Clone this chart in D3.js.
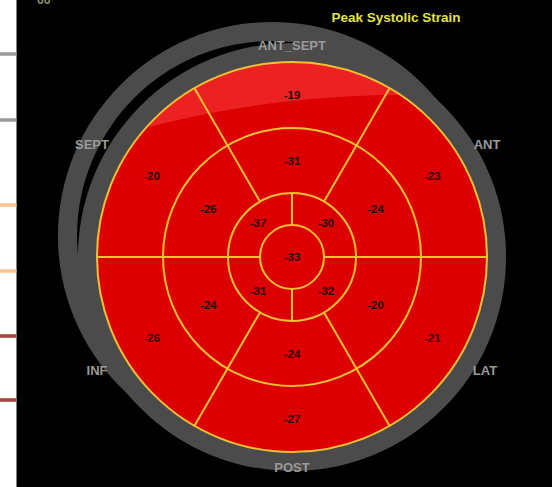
<!DOCTYPE html>
<html>
<head>
<meta charset="utf-8">
<script src="https://cdn.jsdelivr.net/npm/d3@7"></script>
<style>
  html, body { margin: 0; padding: 0; background: #ffffff; }
  svg { display: block; }
</style>
</head>
<body>
<svg id="chart" width="552" height="487"></svg>
<script>
// ---- data ----
const chartTitle = "Peak Systolic Strain";
const wallLabels = ["ANT_SEPT", "ANT", "LAT", "POST", "INF", "SEPT"];
// basal & mid rings: segments clockwise starting at the top (ANT_SEPT)
const basalValues = [-19, -23, -21, -27, -26, -20];
const midValues   = [-31, -24, -20, -24, -24, -26];
// apical ring: segments clockwise starting at top-right
const apicalValues = [-30, -32, -31, -37];
const apexValue = [-33];
const sideLineColors = ["#9a9a9a", "#9a9a9a", "#f7c38f", "#f7c38f", "#a2413b", "#a2413b"];

// ---- layout ----
const svg = d3.select("#chart");
const cx = 292, cy = 257;
const deg = Math.PI / 180;

// background
svg.append("rect").attr("x", 0).attr("y", 0).attr("width", 552).attr("height", 487).attr("fill", "#ffffff");
svg.append("rect").attr("x", 16.5).attr("y", 0).attr("width", 552 - 16.5).attr("height", 487).attr("fill", "#000000");

// fragments of lines on the left white strip
const sideYs = [54, 120, 205, 271, 336, 400];
svg.selectAll("line.side").data(sideLineColors).join("line")
  .attr("class", "side")
  .attr("x1", 0).attr("x2", 16.5)
  .attr("y1", (d, i) => sideYs[i])
  .attr("y2", (d, i) => sideYs[i])
  .attr("stroke", d => d).attr("stroke-width", 3.5);

// partly visible text at top-left
svg.append("text").attr("x", 37).attr("y", 4).attr("fill", "#8a8a70")
  .attr("font-family", "Liberation Sans, Arial, sans-serif").attr("font-weight", "bold")
  .attr("font-size", 12).text("66");

// radius scale: ring boundary index -> radius
const rScale = d3.scaleLinear().domain([0, 1, 2, 3]).range([32, 64, 129, 195]);
const bandOuter = 214;

// gray band (ghost + main)
const ringArc = d3.arc().innerRadius(rScale(3)).outerRadius(bandOuter).startAngle(0).endAngle(2 * Math.PI);
svg.append("path").attr("d", ringArc()).attr("transform", "translate(272,236)").attr("fill", "#4b4b4b");
svg.append("path").attr("d", ringArc()).attr("transform", `translate(${cx},${cy})`).attr("fill", "#4b4b4b");

const g = svg.append("g").attr("transform", `translate(${cx},${cy})`);

// angle scales (d3 arc angles: clockwise from 12 o'clock)
const sixAngle = d3.scaleLinear().domain([0, 6]).range([-30 * deg, 330 * deg]);
const fourAngle = d3.scaleLinear().domain([0, 4]).range([0, 360 * deg]);

const segs = [];
basalValues.forEach((v, i) => segs.push({ v, r0: rScale(2), r1: rScale(3), a0: sixAngle(i), a1: sixAngle(i + 1) }));
midValues.forEach((v, i) => segs.push({ v, r0: rScale(1), r1: rScale(2), a0: sixAngle(i), a1: sixAngle(i + 1) }));
apicalValues.forEach((v, i) => segs.push({ v, r0: rScale(0), r1: rScale(1), a0: fourAngle(i), a1: fourAngle(i + 1) }));
apexValue.forEach(v => segs.push({ v, r0: 0, r1: rScale(0), a0: 0, a1: 2 * Math.PI }));

const color = d3.scaleThreshold().domain([-15, -5]).range(["#dc0000", "#e06060", "#e0e0e0"]);
const arc = d3.arc().innerRadius(d => d.r0).outerRadius(d => d.r1).startAngle(d => d.a0).endAngle(d => d.a1);

g.selectAll("path.seg").data(segs).join("path")
  .attr("class", "seg").attr("d", arc).attr("fill", d => color(d.v)).attr("stroke", "none");

// gloss highlight in the upper part
svg.append("clipPath").attr("id", "discClip").append("circle").attr("cx", cx).attr("cy", cy).attr("r", rScale(3));
const bigR = 1000, bx = 400, by = 1095;
const glossPath = `M0,0H552V487H0Z M${bx - bigR},${by} a${bigR},${bigR} 0 1,0 ${2 * bigR},0 a${bigR},${bigR} 0 1,0 ${-2 * bigR},0Z`;
svg.append("path").attr("d", glossPath).attr("fill-rule", "evenodd")
  .attr("fill", "#f02a2a").attr("opacity", 0.8).attr("clip-path", "url(#discClip)");

// segment borders
const lineColor = "#f2c034";
const lines = svg.append("g").attr("transform", `translate(${cx},${cy})`)
  .attr("stroke", lineColor).attr("stroke-width", 2).attr("fill", "none");
[0, 1, 2, 3].forEach(k => lines.append("circle").attr("r", rScale(k)));
d3.range(6).forEach(i => {
  const a = sixAngle(i);
  lines.append("line")
    .attr("x1", rScale(1) * Math.sin(a)).attr("y1", -rScale(1) * Math.cos(a))
    .attr("x2", rScale(3) * Math.sin(a)).attr("y2", -rScale(3) * Math.cos(a));
});
d3.range(4).forEach(i => {
  const a = fourAngle(i);
  lines.append("line")
    .attr("x1", rScale(0) * Math.sin(a)).attr("y1", -rScale(0) * Math.cos(a))
    .attr("x2", rScale(1) * Math.sin(a)).attr("y2", -rScale(1) * Math.cos(a));
});

// values (drawn on top of the gloss)
const vg = svg.append("g").attr("transform", `translate(${cx},${cy})`);
vg.selectAll("text.val").data(segs).join("text")
  .attr("class", "val")
  .attr("x", d => d.r0 === 0 ? 0 : ((d.r0 + d.r1) / 2) * Math.sin((d.a0 + d.a1) / 2))
  .attr("y", d => d.r0 === 0 ? 0 : -((d.r0 + d.r1) / 2) * Math.cos((d.a0 + d.a1) / 2))
  .attr("dy", "0.35em")
  .attr("text-anchor", "middle")
  .attr("font-family", "Liberation Sans, Arial, sans-serif")
  .attr("font-weight", "bold").attr("font-size", 11.5)
  .attr("fill", "#2a0606")
  .text(d => d.v);

// wall labels
const labelPos = [[292, 45], [487, 144], [485, 370], [292, 467], [97, 370], [92, 144]];
svg.selectAll("text.wall").data(wallLabels).join("text")
  .attr("class", "wall")
  .attr("x", (d, i) => labelPos[i][0]).attr("y", (d, i) => labelPos[i][1])
  .attr("dy", "0.35em").attr("text-anchor", "middle")
  .attr("font-family", "Liberation Sans, Arial, sans-serif")
  .attr("font-weight", "bold").attr("font-size", 13)
  .attr("fill", "#9a9a9a")
  .text(d => d);

// title
svg.append("text").attr("x", 396).attr("y", 17).attr("dy", "0.35em").attr("text-anchor", "middle")
  .attr("font-family", "Liberation Sans, Arial, sans-serif").attr("font-weight", "bold")
  .attr("font-size", 13.5).attr("fill", "#e2e24c").text(chartTitle);
</script>
</body>
</html>
